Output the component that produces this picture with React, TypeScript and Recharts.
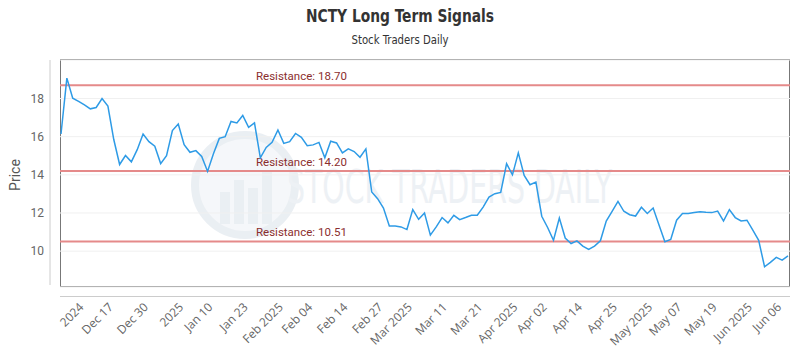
import { LineChart, Line, XAxis, YAxis, CartesianGrid, ReferenceLine } from "recharts";

// daily closes
const prices = [
  16.14, 19.07, 18.02, 17.85, 17.67, 17.46, 17.53, 18.0, 17.6, 15.85,
  14.54, 15.01, 14.68, 15.32, 16.14, 15.74, 15.5, 14.59, 15.01, 16.32,
  16.66, 15.58, 15.18, 15.27, 14.96, 14.18, 15.1, 15.91, 16.0, 16.8,
  16.72, 17.11, 16.49, 16.72, 14.89, 15.44, 15.7, 16.35, 15.65, 15.74,
  16.17, 15.97, 15.53, 15.57, 15.7, 14.89, 15.76, 15.67, 15.15, 15.36,
  15.22, 14.92, 15.36, 13.1, 12.75, 12.26, 11.32, 11.32, 11.27, 11.13,
  12.18, 11.67, 12.0, 10.84, 11.27, 11.76, 11.48, 11.88, 11.65, 11.76,
  11.88, 11.88, 12.31, 12.83, 13.01, 13.08, 14.58, 14.0, 15.15, 13.97,
  13.48, 13.62, 11.83, 11.24, 10.57, 11.74, 10.69, 10.4, 10.54, 10.26,
  10.09, 10.26, 10.54, 11.58, 12.09, 12.61, 12.09, 11.91, 11.84, 12.3,
  11.97, 12.26, 11.37, 10.49, 10.61, 11.62, 11.97, 11.97, 12.02, 12.07,
  12.04, 12.02, 12.1, 11.58, 12.18, 11.76, 11.58, 11.62, 11.1, 10.57,
  9.18, 9.41, 9.67, 9.53, 9.75,
];

const tickLabels = [
  "2024", "Dec 17", "Dec 30", "2025", "Jan 10", "Jan 23", "Feb 2025", "Feb 04",
  "Feb 14", "Feb 27", "Mar 2025", "Mar 11", "Mar 21", "Apr 2025", "Apr 02",
  "Apr 14", "Apr 25", "May 2025", "May 07", "May 19", "Jun 2025", "Jun 06",
];
const tickIndex = [4, 9, 15, 21, 26, 32, 38, 43, 49, 55, 60, 66, 72, 78, 83, 89, 95, 101, 106, 112, 118, 123];

const yTicks = [10, 12, 14, 16, 18];
const resistance = [18.7, 14.2, 10.51];

const data = prices.map((price, i) => ({ i, price }));

function XTick({ x, y, payload }: any) {
  const k = tickIndex.indexOf(payload.value);
  const ty = y + 13;
  return (
    <text
      x={x}
      y={ty}
      transform={`rotate(-45, ${x}, ${ty})`}
      textAnchor="end"
      fontSize={12}
      fill="#666"
      fontFamily="'Open Sans', sans-serif"
    >
      {k >= 0 ? tickLabels[k] : ""}
    </text>
  );
}

function Backdrop() {
  return (
    <svg width={800} height={350} style={{ position: "absolute", left: 0, top: 0 }}>
      <text x={400} y={22} textAnchor="middle" fontSize={17} fontWeight="bold" fill="#333"
        fontFamily="'Liberation Sans Narrow', 'DejaVu Sans Condensed', sans-serif"
        textLength={188} lengthAdjust="spacingAndGlyphs">
        NCTY Long Term Signals
      </text>
      <text x={400} y={44} textAnchor="middle" fontSize={12} fill="#333"
        fontFamily="'Liberation Sans Narrow', 'DejaVu Sans Condensed', sans-serif"
        textLength={97} lengthAdjust="spacingAndGlyphs">
        Stock Traders Daily
      </text>

      {/* watermark */}
      <g opacity={0.55}>
        <circle cx={245} cy={185} r={50} fill="#eef2f6" stroke="#dae2ea" strokeWidth={8} />
        <rect x={220} y={192} width={10} height={32} fill="#dae2ea" />
        <rect x={234} y={180} width={10} height={44} fill="#dae2ea" />
        <rect x={248} y={188} width={10} height={36} fill="#dae2ea" />
        <rect x={262} y={172} width={10} height={52} fill="#dae2ea" />
        <text x={287} y={203} fontSize={46} fill="#e0e6ed"
          fontFamily="'DejaVu Sans Condensed', sans-serif"
          textLength={325} lengthAdjust="spacingAndGlyphs">
          STOCK TRADERS DAILY
        </text>
      </g>

      <text x={20} y={175} transform="rotate(-90, 20, 175)" textAnchor="middle" fontSize={14}
        fill="#555" fontFamily="Roboto, sans-serif">
        Price
      </text>

      <line x1={50} y1={60} x2={50} y2={285} stroke="#ccc" />
      <line x1={60} y1={296.5} x2={790} y2={296.5} stroke="#ccc" />
      <rect x={60.5} y={59.5} width={729} height={227} fill="none" stroke="#777" />
    </svg>
  );
}

export default function App() {
  return (
    <div style={{ position: "absolute", left: 0, top: 0, width: 800, height: 350, background: "#fff" }}>
      <Backdrop />
      <div style={{ position: "absolute", left: 0, top: 0 }}>
        <LineChart width={800} height={350} data={data} margin={{ top: 60, right: 10, bottom: 0, left: 0 }}>
          <CartesianGrid vertical={false} stroke="#f0f0f0" />
          <XAxis
            dataKey="i"
            type="number"
            domain={[0, prices.length - 1]}
            ticks={tickIndex}
            interval={0}
            height={63}
            axisLine={false}
            tickLine={false}
            tick={<XTick />}
            padding={{ left: 1, right: 2 }}
          />
          <YAxis
            domain={[8.12, 20.02]}
            ticks={yTicks}
            width={60}
            axisLine={false}
            tickLine={false}
            tickMargin={10}
            allowDataOverflow
            tick={{ fontSize: 12, fill: "#666", fontFamily: "Roboto, sans-serif" }}
          />
          {resistance.map((r) => (
            <ReferenceLine
              key={r}
              y={r}
              stroke="#e58a8a"
              strokeWidth={2}
              label={(p: any) => (
                <text x={p.viewBox.x + 196} y={p.viewBox.y - 5} fill="#8b2e2e" fontSize={11.5}
                  fontFamily="Roboto, sans-serif">
                  {`Resistance: ${r.toFixed(2)}`}
                </text>
              )}
            />
          ))}
          <Line
            type="linear"
            dataKey="price"
            stroke="#2e9be6"
            strokeWidth={1.5}
            dot={false}
            isAnimationActive={false}
          />
        </LineChart>
      </div>
    </div>
  );
}
